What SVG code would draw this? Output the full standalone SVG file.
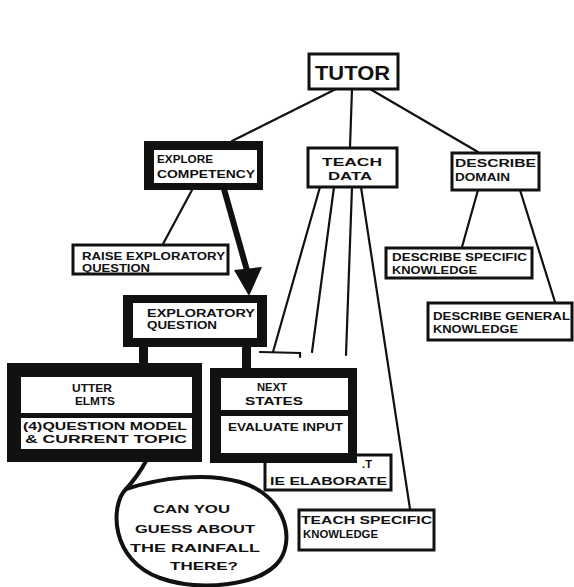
<svg xmlns="http://www.w3.org/2000/svg" width="574" height="587" viewBox="0 0 574 587">
<style>
.box{fill:#fff;stroke:#111;stroke-width:3}
.blk{fill:#111}
.pan{fill:#fff}
.ln{stroke:#111;stroke-width:2.2;fill:none;stroke-linecap:round}
text{font-family:"Liberation Sans","DejaVu Sans",sans-serif;font-weight:bold;fill:#111}
.s{font-size:10px}
.m{font-size:11px}
</style>
<rect width="574" height="587" fill="#fff"/>
<g id="connectors">
<line class="ln" x1="336" y1="89" x2="232" y2="141"/>
<line class="ln" x1="352" y1="89" x2="350" y2="147"/>
<line class="ln" x1="370" y1="89" x2="478" y2="152"/>
<line class="ln" x1="192" y1="190" x2="163" y2="244"/>
<line class="ln" x1="478" y1="190" x2="462" y2="247"/>
<line class="ln" x1="520" y1="190" x2="555" y2="302"/>
<line class="ln" x1="320" y1="187" x2="273" y2="352"/>
<polyline class="ln" points="260,352 300,353 300,357"/>
<line class="ln" x1="334" y1="187" x2="312" y2="352"/>
<line class="ln" x1="352" y1="187" x2="346" y2="355"/>
<line class="ln" x1="361" y1="187" x2="410" y2="509"/>
<line stroke="#111" stroke-width="6" x1="224" y1="189" x2="248" y2="274"/>
<polygon class="blk" points="234,270 262,267 249,296"/>
<rect class="blk" x="139" y="345" width="9" height="20"/>
<rect class="blk" x="242" y="345" width="9" height="25"/>
</g>
<g id="tutor">
<rect class="box" x="309" y="54" width="89" height="35"/>
<text x="315" y="80" font-size="20" textLength="75" lengthAdjust="spacingAndGlyphs">TUTOR</text>
</g>
<g id="explore-competency">
<rect class="blk" x="144" y="141" width="119" height="49"/>
<rect class="pan" x="154" y="150" width="103" height="33"/>
<text class="m" x="157" y="163" textLength="56" lengthAdjust="spacingAndGlyphs">EXPLORE</text>
<text class="m" x="157" y="178" textLength="98" lengthAdjust="spacingAndGlyphs">COMPETENCY</text>
</g>
<g id="teach-data">
<rect class="box" x="308" y="148" width="89" height="39"/>
<text class="m" x="322" y="166" textLength="60" lengthAdjust="spacingAndGlyphs">TEACH</text>
<text class="m" x="328" y="180" textLength="44" lengthAdjust="spacingAndGlyphs">DATA</text>
</g>
<g id="describe-domain">
<rect class="box" x="452" y="153" width="87" height="37"/>
<text class="s" x="455" y="167" textLength="81" lengthAdjust="spacingAndGlyphs">DESCRIBE</text>
<text class="s" x="455" y="181" textLength="55" lengthAdjust="spacingAndGlyphs">DOMAIN</text>
</g>
<g id="raise-exploratory-question">
<rect class="box" x="73" y="245" width="155" height="29"/>
<text class="s" x="82" y="260" textLength="143" lengthAdjust="spacingAndGlyphs">RAISE EXPLORATORY</text>
<text class="s" x="82" y="272" textLength="68" lengthAdjust="spacingAndGlyphs">QUESTION</text>
</g>
<g id="describe-specific-knowledge">
<rect class="box" x="386" y="248" width="146" height="30"/>
<text class="s" x="392" y="261" textLength="135" lengthAdjust="spacingAndGlyphs">DESCRIBE SPECIFIC</text>
<text class="s" x="392" y="274" textLength="85" lengthAdjust="spacingAndGlyphs">KNOWLEDGE</text>
</g>
<g id="describe-general-knowledge">
<rect class="box" x="428" y="303" width="144" height="37"/>
<text class="s" x="433" y="320" textLength="137" lengthAdjust="spacingAndGlyphs">DESCRIBE GENERAL</text>
<text class="s" x="433" y="333" textLength="85" lengthAdjust="spacingAndGlyphs">KNOWLEDGE</text>
</g>
<g id="exploratory-question">
<rect class="blk" x="123" y="295" width="144" height="52"/>
<rect class="pan" x="133" y="303" width="124" height="35"/>
<text class="s" x="147" y="317" textLength="108" lengthAdjust="spacingAndGlyphs">EXPLORATORY</text>
<text class="s" x="147" y="329" textLength="70" lengthAdjust="spacingAndGlyphs">QUESTION</text>
</g>
<g id="elaborate">
<rect class="box" x="265" y="455" width="126" height="35"/>
<text class="s" x="362" y="468" textLength="10" lengthAdjust="spacingAndGlyphs">.T</text>
<text class="s" x="270" y="485" textLength="117" lengthAdjust="spacingAndGlyphs">IE ELABORATE</text>
</g>
<g id="utter-elmts">
<rect class="blk" x="7" y="363" width="195" height="99"/>
<rect class="pan" x="21" y="377" width="171" height="36"/>
<rect class="pan" x="21" y="418" width="171" height="31"/>
<text class="s" x="72" y="392" textLength="40" lengthAdjust="spacingAndGlyphs">UTTER</text>
<text class="s" x="75" y="405" textLength="40" lengthAdjust="spacingAndGlyphs">ELMTS</text>
<text class="s" x="23" y="430" textLength="164" lengthAdjust="spacingAndGlyphs">(4)QUESTION MODEL</text>
<text class="s" x="25" y="443" textLength="162" lengthAdjust="spacingAndGlyphs">&amp; CURRENT TOPIC</text>
</g>
<g id="next-states">
<rect class="blk" x="210" y="368" width="147" height="95"/>
<rect class="pan" x="221" y="378" width="127" height="32"/>
<rect class="pan" x="221" y="416" width="127" height="37"/>
<text class="s" x="257" y="391" textLength="30" lengthAdjust="spacingAndGlyphs">NEXT</text>
<text class="s" x="245" y="405" textLength="58" lengthAdjust="spacingAndGlyphs">STATES</text>
<text class="s" x="228" y="431" textLength="115" lengthAdjust="spacingAndGlyphs">EVALUATE INPUT</text>
</g>
<g id="teach-specific-knowledge">
<rect class="box" x="299" y="510" width="135" height="40"/>
<text class="s" x="301" y="524" textLength="131" lengthAdjust="spacingAndGlyphs">TEACH SPECIFIC</text>
<text class="s" x="303" y="538" textLength="75" lengthAdjust="spacingAndGlyphs">KNOWLEDGE</text>
</g>
<g id="speech-bubble">
<path d="M126 489 C110 505 110 560 160 578 C200 592 262 586 280 560 C296 535 282 494 240 482 C205 472 160 478 126 489 Z" fill="#fff" stroke="#111" stroke-width="4"/>
<path d="M146 461 Q138 476 126 489" fill="none" stroke="#111" stroke-width="4" stroke-linecap="round"/>
<text class="s" x="153" y="513" textLength="77" lengthAdjust="spacingAndGlyphs">CAN YOU</text>
<text class="s" x="135" y="533" textLength="120" lengthAdjust="spacingAndGlyphs">GUESS ABOUT</text>
<text class="s" x="130" y="552" textLength="130" lengthAdjust="spacingAndGlyphs">THE RAINFALL</text>
<text class="s" x="170" y="570" textLength="68" lengthAdjust="spacingAndGlyphs">THERE?</text>
</g>
</svg>
